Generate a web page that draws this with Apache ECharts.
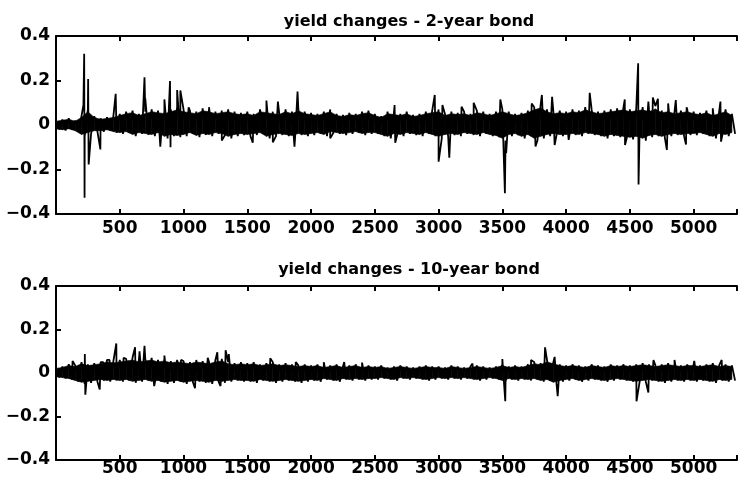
<!DOCTYPE html>
<html><head><meta charset="utf-8">
<script src="https://cdn.jsdelivr.net/npm/echarts@6/dist/echarts.min.js"></script>
<style>html,body{margin:0;padding:0;background:#fff}#c{width:740px;height:488px}</style>
</head><body><div id="c"></div>
<script>
var titles = ['yield changes - 2-year bond', 'yield changes - 10-year bond'];
var yTicks = [-0.4, -0.2, 0, 0.2, 0.4];
var xTicks = [500, 1000, 1500, 2000, 2500, 3000, 3500, 4000, 4500, 5000];
var step = 50;
// 2-year bond: upper and lower band values every 50 observations (lower at +25), plus spikes
var hi2 = [0.02,0.025,0.03,0.02,0.04,0.07,0.04,0.03,0.035,0.04,
  0.05,0.06,0.065,0.05,0.06,0.07,0.065,0.06,0.07,0.08,
  0.07,0.065,0.06,0.075,0.07,0.06,0.065,0.07,0.06,0.055,
  0.06,0.05,0.07,0.065,0.06,0.055,0.07,0.06,0.075,0.06,
  0.055,0.05,0.06,0.07,0.05,0.045,0.055,0.05,0.06,0.065,
  0.05,0.04,0.06,0.055,0.05,0.06,0.045,0.05,0.06,0.065,
  0.07,0.05,0.06,0.055,0.06,0.05,0.065,0.06,0.05,0.06,
  0.07,0.06,0.05,0.055,0.065,0.08,0.09,0.07,0.06,0.065,
  0.06,0.07,0.065,0.08,0.07,0.06,0.065,0.07,0.075,0.08,
  0.07,0.075,0.08,0.07,0.085,0.065,0.07,0.06,0.065,0.07,
  0.06,0.055,0.065,0.05,0.06,0.07,0.05];
var lo2 = [-0.02,-0.025,-0.02,-0.03,-0.05,-0.04,-0.03,-0.03,-0.025,-0.035,
  -0.04,-0.035,-0.05,-0.04,-0.045,-0.05,-0.04,-0.06,-0.05,-0.055,
  -0.05,-0.04,-0.055,-0.045,-0.05,-0.04,-0.045,-0.06,-0.05,-0.045,
  -0.05,-0.045,-0.04,-0.06,-0.05,-0.045,-0.05,-0.055,-0.045,-0.05,
  -0.045,-0.04,-0.05,-0.035,-0.04,-0.045,-0.04,-0.035,-0.045,-0.04,
  -0.04,-0.05,-0.06,-0.045,-0.05,-0.04,-0.045,-0.05,-0.04,-0.05,
  -0.06,-0.05,-0.045,-0.05,-0.04,-0.045,-0.05,-0.04,-0.05,-0.055,
  -0.07,-0.05,-0.045,-0.06,-0.05,-0.07,-0.06,-0.05,-0.045,-0.05,
  -0.05,-0.045,-0.05,-0.04,-0.045,-0.05,-0.06,-0.05,-0.055,-0.06,
  -0.065,-0.06,-0.07,-0.055,-0.05,-0.06,-0.05,-0.045,-0.05,-0.045,
  -0.045,-0.04,-0.05,-0.06,-0.045,-0.05,-0.04];
var spikes2 = [[215,0.09],[221,0.32],[224,-0.327],[252,0.207],[256,-0.177],[348,-0.11],[468,0.14],
  [694,0.214],[700,0.12],[818,-0.097],[850,0.115],[894,0.198],[898,-0.10],[950,0.157],[975,0.155],
  [1040,0.08],[1200,0.08],[1300,-0.07],[1543,-0.08],[1650,0.11],[1700,-0.078],[1740,0.105],
  [1870,-0.097],[1894,0.15],[2150,-0.06],[2400,0.06],[2655,0.09],[2660,-0.08],
  [2970,0.135],[3000,-0.165],[3030,0.09],[3084,-0.147],[3180,0.082],[3275,0.10],[3484,0.115],
  [3520,-0.307],[3530,-0.127],[3730,0.097],[3760,-0.097],[3810,0.135],[3890,0.127],[3910,-0.09],
  [4020,-0.067],[4185,0.145],[4460,0.115],[4462,-0.09],[4565,0.277],[4568,-0.267],[4645,0.105],
  [4680,0.124],[4720,0.118],[4790,-0.112],[4800,0.097],[4860,0.112],[4940,-0.088],[4945,0.08],
  [5150,0.075],[5210,0.105],[5215,-0.075]];
// 10-year bond
var hi10 = [0.025,0.03,0.04,0.035,0.05,0.04,0.045,0.05,0.06,0.055,
  0.06,0.065,0.07,0.06,0.065,0.07,0.06,0.065,0.055,0.06,
  0.055,0.05,0.06,0.055,0.05,0.06,0.065,0.05,0.045,0.05,
  0.045,0.05,0.04,0.045,0.05,0.04,0.045,0.04,0.035,0.04,
  0.035,0.04,0.03,0.035,0.04,0.03,0.035,0.04,0.03,0.035,
  0.03,0.035,0.025,0.03,0.035,0.03,0.025,0.03,0.035,0.03,
  0.03,0.025,0.035,0.03,0.025,0.03,0.035,0.03,0.025,0.03,
  0.04,0.03,0.035,0.03,0.04,0.05,0.045,0.06,0.05,0.04,
  0.035,0.04,0.035,0.03,0.04,0.035,0.03,0.04,0.035,0.04,
  0.035,0.04,0.045,0.04,0.035,0.04,0.045,0.04,0.035,0.04,
  0.04,0.035,0.04,0.045,0.035,0.04,0.035];
var lo10 = [-0.02,-0.025,-0.03,-0.04,-0.05,-0.045,-0.04,-0.035,-0.04,-0.035,
  -0.04,-0.035,-0.045,-0.04,-0.035,-0.045,-0.04,-0.05,-0.045,-0.04,
  -0.05,-0.045,-0.04,-0.045,-0.05,-0.04,-0.045,-0.04,-0.035,-0.04,
  -0.04,-0.045,-0.035,-0.04,-0.045,-0.04,-0.035,-0.04,-0.045,-0.04,
  -0.035,-0.04,-0.03,-0.035,-0.04,-0.03,-0.035,-0.03,-0.035,-0.03,
  -0.03,-0.025,-0.03,-0.035,-0.025,-0.03,-0.025,-0.03,-0.035,-0.03,
  -0.025,-0.03,-0.025,-0.03,-0.025,-0.03,-0.035,-0.03,-0.025,-0.03,
  -0.04,-0.03,-0.035,-0.03,-0.035,-0.03,-0.04,-0.035,-0.05,-0.04,
  -0.035,-0.03,-0.04,-0.035,-0.03,-0.035,-0.04,-0.035,-0.03,-0.035,
  -0.04,-0.045,-0.04,-0.035,-0.04,-0.045,-0.04,-0.035,-0.04,-0.035,
  -0.04,-0.035,-0.04,-0.045,-0.035,-0.04,-0.035];
var spikes10 = [[130,0.055],[226,0.087],[230,-0.10],[343,-0.076],[370,0.05],[420,0.06],[473,0.136],
  [530,0.07],[620,0.118],[655,0.10],[694,0.125],[770,-0.06],[850,0.08],[980,0.06],[1090,-0.07],
  [1190,0.07],[1265,0.095],[1290,-0.06],[1330,0.105],[1355,0.087],[1680,0.068],[1880,0.05],
  [2100,0.05],[2260,0.05],[2400,0.048],[3266,0.043],[3500,0.064],[3523,-0.13],[3725,0.06],
  [3835,0.118],[3910,0.074],[3934,-0.107],[4552,-0.13],[4645,-0.09],[4685,0.06],[4850,0.06],
  [5005,0.056],[5220,0.06]];

function build(hi, lo, spikes) {
  var pts = [];
  hi.forEach(function (v, i) { pts.push([i * step, v]); });
  lo.forEach(function (v, i) { pts.push([i * step + step / 2, v]); });
  spikes.forEach(function (s) { pts.push([s[0], s[1]]); });
  pts.sort(function (a, b) { return a[0] - b[0]; });
  return pts;
}
// band core: [x, lo, hi, nextX, nextLo, nextHi]
var coreShare = 0.85;
function bandData(hi, lo) {
  var out = [];
  for (var i = 0; i < hi.length - 1; i++) {
    out.push([i * step, lo[i] * coreShare, hi[i] * coreShare, (i + 1) * step, lo[i + 1] * coreShare, hi[i + 1] * coreShare]);
  }
  return out;
}
function renderBand(params, api) {
  var a = api.coord([api.value(0), api.value(2)]);
  var b = api.coord([api.value(3), api.value(5)]);
  var c = api.coord([api.value(3), api.value(4)]);
  var d = api.coord([api.value(0), api.value(1)]);
  return {type: 'polygon', shape: {points: [a, b, c, d]}, style: {fill: '#000', stroke: '#000', lineWidth: 0.6}};
}

var FONT = 'DejaVu Sans';
var grids = [{left: 56, right: -3, top: 36, height: 178}, {left: 56, right: -3, top: 286, height: 174}];
var xMargins = [6, 0];
var titleTops = [9, 257];
var his = [hi2, hi10], los = [lo2, lo10];
var xAxes = [], yAxes = [], series = [], titleArr = [];
var datas = [build(hi2, lo2, spikes2), build(hi10, lo10, spikes10)];
function fmtY(v) { var s = String(Math.round(v * 10) / 10); return s.replace('-', '\u2212'); }
for (var g = 0; g < 2; g++) {
  titleArr.push({text: titles[g], left: 404, top: titleTops[g], textAlign: 'center',
    textStyle: {fontFamily: FONT, fontSize: 16, fontWeight: 'bold', color: '#000'}});
  xAxes.push({type: 'value', gridIndex: g, min: 0, max: 5340, interval: 500, position: 'bottom',
    axisLine: {onZero: false, lineStyle: {color: '#000', width: 2}},
    axisTick: {inside: true, length: 5, lineStyle: {color: '#000', width: 2}},
    axisLabel: {showMinLabel: false, color: '#000', fontFamily: FONT, fontSize: 17, fontWeight: 'bold', margin: xMargins[g],
      formatter: function (v) { return xTicks.indexOf(v) >= 0 ? String(v) : ''; }},
    splitLine: {show: false}});
  xAxes.push({type: 'value', gridIndex: g, min: 0, max: 5340, interval: 500, position: 'top',
    axisLine: {onZero: false, lineStyle: {color: '#000', width: 2}},
    axisTick: {inside: true, length: 5, lineStyle: {color: '#000', width: 2}},
    axisLabel: {show: false}, splitLine: {show: false}});
  yAxes.push({type: 'value', gridIndex: g, min: yTicks[0], max: yTicks[yTicks.length - 1], interval: 0.2,
    axisLine: {onZero: false, lineStyle: {color: '#000', width: 2}},
    axisTick: {inside: true, length: 5, lineStyle: {color: '#000', width: 2}},
    axisLabel: {color: '#000', fontFamily: FONT, fontSize: 17, fontWeight: 'bold', margin: 6, formatter: fmtY},
    splitLine: {show: false}});
  series.push({type: 'custom', xAxisIndex: g * 2, yAxisIndex: g, data: bandData(his[g], los[g]),
    renderItem: renderBand, clip: true, silent: true,
    encode: {x: [0, 3], y: [1, 2, 4, 5]}});
  series.push({type: 'line', xAxisIndex: g * 2, yAxisIndex: g, data: datas[g], showSymbol: false,
    symbol: 'none', lineStyle: {color: '#000', width: 1.8}, clip: true, silent: true});
}
var chart = echarts.init(document.getElementById('c'), null, {renderer: 'canvas'});
chart.setOption({animation: false, backgroundColor: '#fff', title: titleArr, grid: grids,
  xAxis: xAxes, yAxis: yAxes, series: series});
</script></body></html>
